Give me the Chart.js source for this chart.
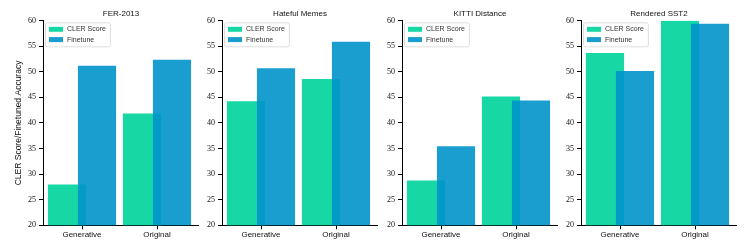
<!DOCTYPE html>
<html>
<head>
<meta charset="utf-8">
<script src="https://cdn.jsdelivr.net/npm/chart.js@4.4.0/dist/chart.umd.min.js"></script>
<style>
  html, body { margin: 0; padding: 0; background: #fff; }
  #wrap { position: relative; width: 747px; height: 249px; overflow: hidden; }
  #wrap canvas { position: absolute; top: 0; }
</style>
</head>
<body>
<div id="wrap">
  <canvas id="c0"></canvas>
  <canvas id="c1"></canvas>
  <canvas id="c2"></canvas>
  <canvas id="c3"></canvas>
</div>
<script>
// data
const categories = ['Generative', 'Original'];
const seriesNames = ['CLER Score', 'Finetune'];
const panelTitles = ['FER-2013', 'Hateful Memes', 'KITTI Distance', 'Rendered SST2'];
const clerScores = [[27.9, 41.8], [44.2, 48.5], [28.7, 45.1], [53.6, 59.9]];
const finetuneScores = [[51.1, 52.3], [50.6, 55.8], [35.4, 44.3], [50.1, 59.3]];
const yMin = 20, yMax = 60, yStep = 5;
const yLabel = 'CLER Score/Finetuned Accuracy';

const green = '#17d7a5';
const blue = 'rgba(0, 147, 202, 0.9)';
const sans = '"Liberation Sans", Arial, sans-serif';
const serif = '"Liberation Serif", "Times New Roman", serif';

// layout of the four panels
const plotLefts = [43, 222, 402, 581];
const plotWidth = 156;

// draw datasets first-to-last so Finetune sits on top of CLER Score
const drawOrder = {
  id: 'drawOrder',
  beforeDatasetsDraw(chart) {
    const { ctx, chartArea: a } = chart;
    ctx.save();
    ctx.beginPath();
    ctx.rect(a.left, a.top, a.right - a.left, a.bottom - a.top);
    ctx.clip();
    chart.getSortedVisibleDatasetMetas().forEach(meta => meta.controller.draw());
    ctx.restore();
    return false;
  }
};

// matplotlib-like legend box in the upper left corner
const legendBox = {
  id: 'legendBox',
  afterDraw(chart) {
    const { ctx, chartArea } = chart;
    const x0 = chartArea.left + 2, y0 = chartArea.top + 1.7;
    const items = chart.data.datasets;
    ctx.save();
    ctx.font = '7px ' + sans;
    const textW = Math.max(...items.map(d => ctx.measureText(d.label).width));
    const w = 22 + textW + 4, h = 24;
    ctx.fillStyle = 'rgba(255,255,255,0.85)';
    ctx.strokeStyle = '#d6d6d6';
    ctx.lineWidth = 0.8;
    ctx.beginPath();
    ctx.roundRect(x0 + 0.5, y0 + 0.5, w, h, 2);
    ctx.fill();
    ctx.stroke();
    items.forEach((d, k) => {
      const cy = y0 + 7 + k * 10.3;
      ctx.fillStyle = d.backgroundColor;
      ctx.fillRect(x0 + 4, cy - 2.5, 14, 5);
      ctx.fillStyle = '#333';
      ctx.textBaseline = 'middle';
      ctx.fillText(d.label, x0 + 22, cy);
    });
    ctx.restore();
  }
};

function makePanel(i) {
  const canvas = document.getElementById('c' + i);
  const axisW = i === 0 ? 43 : 30;
  canvas.width = axisW + plotWidth;
  canvas.height = 249;
  canvas.style.left = (plotLefts[i] - axisW) + 'px';

  new Chart(canvas, {
    type: 'bar',
    data: {
      labels: categories.map((c, k) => k),
      datasets: [
        { label: seriesNames[0], data: clerScores[i], backgroundColor: green },
        { label: seriesNames[1], data: finetuneScores[i], backgroundColor: blue }
      ]
    },
    options: {
      responsive: false,
      animation: false,
      categoryPercentage: 0.8,
      barPercentage: 1.25,
      layout: { padding: 0 },
      plugins: {
        legend: { display: false },
        tooltip: { enabled: false },
        title: {
          display: true,
          text: panelTitles[i],
          fullSize: false,
          color: '#111',
          font: { family: sans, size: 8, weight: 'normal' },
          padding: { top: 8.5, bottom: 2.5 }
        }
      },
      scales: {
        x: {
          type: 'linear',
          offset: false,
          min: -0.52,
          max: 1.56,
          afterBuildTicks: ax => { ax.ticks = categories.map((c, k) => ({ value: k })); },
          afterFit: ax => { ax.height = 23.7; },
          ticks: {
            callback: v => categories[v],
            color: '#111',
            font: { family: sans, size: 8 },
            padding: 1,
            maxRotation: 0,
            autoSkip: false
          },
          grid: { offset: false, drawOnChartArea: false, tickLength: 4, tickColor: '#000', color: '#000' },
          border: { color: '#000', width: 1 }
        },
        y: {
          min: yMin,
          max: yMax,
          afterFit: ax => { ax.width = axisW; },
          ticks: {
            stepSize: yStep,
            color: '#111',
            font: { family: serif, size: 8 },
            padding: 3
          },
          grid: { drawOnChartArea: false, tickLength: 4, tickColor: '#000', color: '#000' },
          border: { color: '#000', width: 1 },
          title: {
            display: i === 0,
            text: yLabel,
            color: '#111',
            font: { family: sans, size: 8.5 },
            padding: { top: 14, bottom: 0 }
          }
        }
      }
    },
    plugins: [drawOrder, legendBox]
  });
}

panelTitles.forEach((t, i) => makePanel(i));
</script>
</body>
</html>
